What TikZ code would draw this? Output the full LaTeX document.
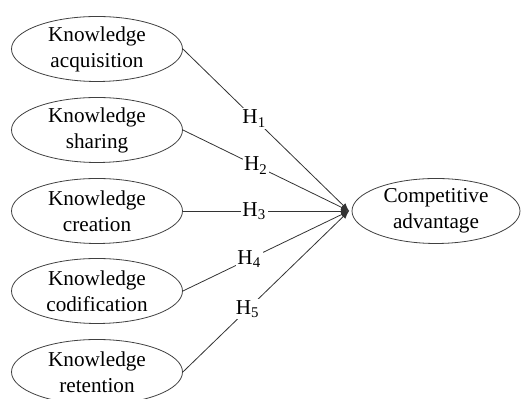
\documentclass[tikz,border=0pt]{standalone}
\usepackage{fontspec}
\setmainfont{Liberation Serif}
\usepackage{tikz}
\usetikzlibrary{positioning,arrows,shapes.geometric}

\begin{document}
\begin{tikzpicture}[x=0.5pt,y=-0.5pt,
    construct/.style={ellipse, draw=black!75, minimum width=85.5pt, minimum height=32.5pt,
        inner sep=0pt, align=center, font=\fontsize{10.6}{13}\selectfont},
    hpath/.style={draw=black!80, ->, >=latex},
    hyp/.style={fill=white, inner sep=0.8pt, font=\fontsize{10.6}{13}\selectfont}]
    \useasboundingbox (0,0) rectangle (521,399);

    %% antecedents
    \node[construct] (acquisition) at (97,49) {Knowledge\\acquisition};
    \node[construct] (sharing) at (97,130) {Knowledge\\sharing};
    \node[construct] (creation) at (97,211) {Knowledge\\creation};
    \node[construct] (codification) at (97,291) {Knowledge\\codification};
    \node[construct] (retention) at (97,372) {Knowledge\\retention};

    %% outcome
    \node[construct, minimum width=84pt] (advantage) at (436,211) {Competitive\\advantage};
    \coordinate (hub) at (349,211);

    %% hypotheses
    \draw[hpath] (acquisition.east) -- node[hyp, pos=0.43] {H\textsubscript{1}} (hub);
    \draw[hpath] (sharing.east) -- node[hyp, pos=0.44] {H\textsubscript{2}} (hub);
    \draw[hpath] (creation.east) -- node[hyp, pos=0.43] {H\textsubscript{3}} (hub);
    \draw[hpath] (codification.east) -- node[hyp, pos=0.4] {H\textsubscript{4}} (hub);
    \draw[hpath] (retention.east) -- node[hyp, pos=0.39] {H\textsubscript{5}} (hub);

\end{tikzpicture}
\end{document}
